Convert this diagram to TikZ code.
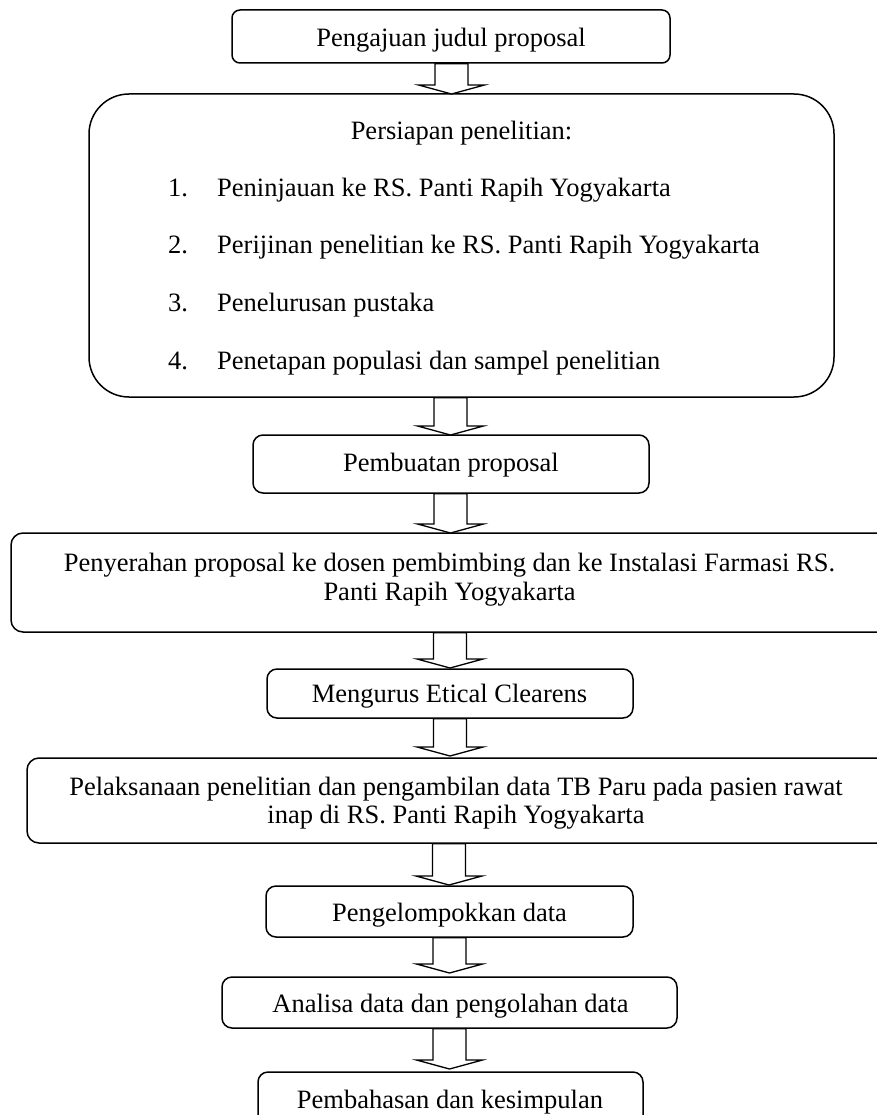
\documentclass[tikz,border=0pt]{standalone}
\usepackage{fontspec}
\setmainfont{Liberation Serif}
\usetikzlibrary{calc}
\newcommand\blockarrow[2]{%
  \draw[barrow] let \p1=(#1.south), \p2=(#2) in
   (\x2-16.5pt,\y1) -- (\x2-16.5pt,\y2+9pt) -- (\x2-33pt,\y2+9pt) -- (\p2)
   -- (\x2+33pt,\y2+9pt) -- (\x2+16.5pt,\y2+9pt) -- (\x2+16.5pt,\y1) -- cycle;}
\begin{document}
\begin{tikzpicture}[x=1pt,y=-1pt,
  box/.style={draw, line width=1.5pt, rounded corners=10pt, inner sep=0pt},
  txt/.style={anchor=base, inner sep=0pt, font=\fontsize{26.5}{30}\selectfont},
  barrow/.style={draw, line width=1.3pt, fill=white, line join=miter}]
\useasboundingbox (0,0) rectangle (877,1115);
\clip (0,0) rectangle (877,1115);

% boxes
\node[box, rounded corners=8pt, minimum width=438pt, minimum height=53pt] (b1) at (451,36.5) {};
\node[box, rounded corners=40pt, minimum width=745pt, minimum height=303pt] (b2) at (461.5,245.5) {};
\node[box, minimum width=396pt, minimum height=58pt] (b3) at (451,464) {};
\node[box, rounded corners=12pt, minimum width=909pt, minimum height=99pt] (b4) at (465.5,582.5) {};
\node[box, minimum width=366pt, minimum height=49pt] (b5) at (450,693.5) {};
\node[box, rounded corners=12pt, minimum width=893pt, minimum height=85pt] (b6) at (473.5,800.5) {};
\node[box, minimum width=367pt, minimum height=51pt] (b7) at (449.5,911.5) {};
\node[box, minimum width=455pt, minimum height=51pt] (b8) at (449.5,1002.5) {};
\node[box, minimum width=385pt, minimum height=68pt] (b9) at (450.5,1106) {};

% texts
\node[txt] (t1) at (451,47) {Pengajuan judul proposal};
\node[txt] (t2) at (461.5,140) {Persiapan penelitian:};
\node[txt, anchor=base west] (n1) at (168,197) {1.};
\node[txt, anchor=base west] (i1) at (217,197) {Peninjauan ke RS. Panti Rapih Yogyakarta};
\node[txt, anchor=base west] (n2) at (168,254) {2.};
\node[txt, anchor=base west] (i2) at (217,254) {Perijinan penelitian ke RS. Panti Rapih Yogyakarta};
\node[txt, anchor=base west] (n3) at (168,311) {3.};
\node[txt, anchor=base west] (i3) at (217,311) {Penelurusan pustaka};
\node[txt, anchor=base west] (n4) at (168,369) {4.};
\node[txt, anchor=base west] (i4) at (217,369) {Penetapan populasi dan sampel penelitian};
\node[txt] (t3) at (451,471) {Pembuatan proposal};
\node[txt] (t4a) at (449.5,571) {Penyerahan proposal ke dosen pembimbing dan ke Instalasi Farmasi RS.};
\node[txt] (t4b) at (449.5,600) {Panti Rapih Yogyakarta};
\begin{scope}
  \clip (0,660) rectangle (877,707.5);
  \node[txt] (t5) at (449.5,702) {Mengurus Etical Clearens};
\end{scope}
\node[txt] (t6a) at (456,795) {Pelaksanaan penelitian dan pengambilan data TB Paru pada pasien rawat};
\node[txt] (t6b) at (456,823) {inap di RS. Panti Rapih Yogyakarta};
\node[txt] (t7) at (449.5,921) {Pengelompokkan data};
\begin{scope}
  \clip (0,980) rectangle (877,1017);
  \node[txt] (t8) at (450.5,1012) {Analisa data dan pengolahan data};
\end{scope}
\node[txt] (t9) at (450,1108) {Pembahasan dan kesimpulan};

% arrow tips
\coordinate (p1) at (451.5,94);
\coordinate (p2) at (450.5,435);
\coordinate (p3) at (450.5,533);
\coordinate (p4) at (450,668);
\coordinate (p5) at (450,756);
\coordinate (p6) at (449,885);
\coordinate (p7) at (449.5,973);
\coordinate (p8) at (449.5,1069);

\blockarrow{b1}{p1}
\blockarrow{b2}{p2}
\blockarrow{b3}{p3}
\blockarrow{b4}{p4}
\blockarrow{b5}{p5}
\blockarrow{b6}{p6}
\blockarrow{b7}{p7}
\blockarrow{b8}{p8}
\end{tikzpicture}
\end{document}
